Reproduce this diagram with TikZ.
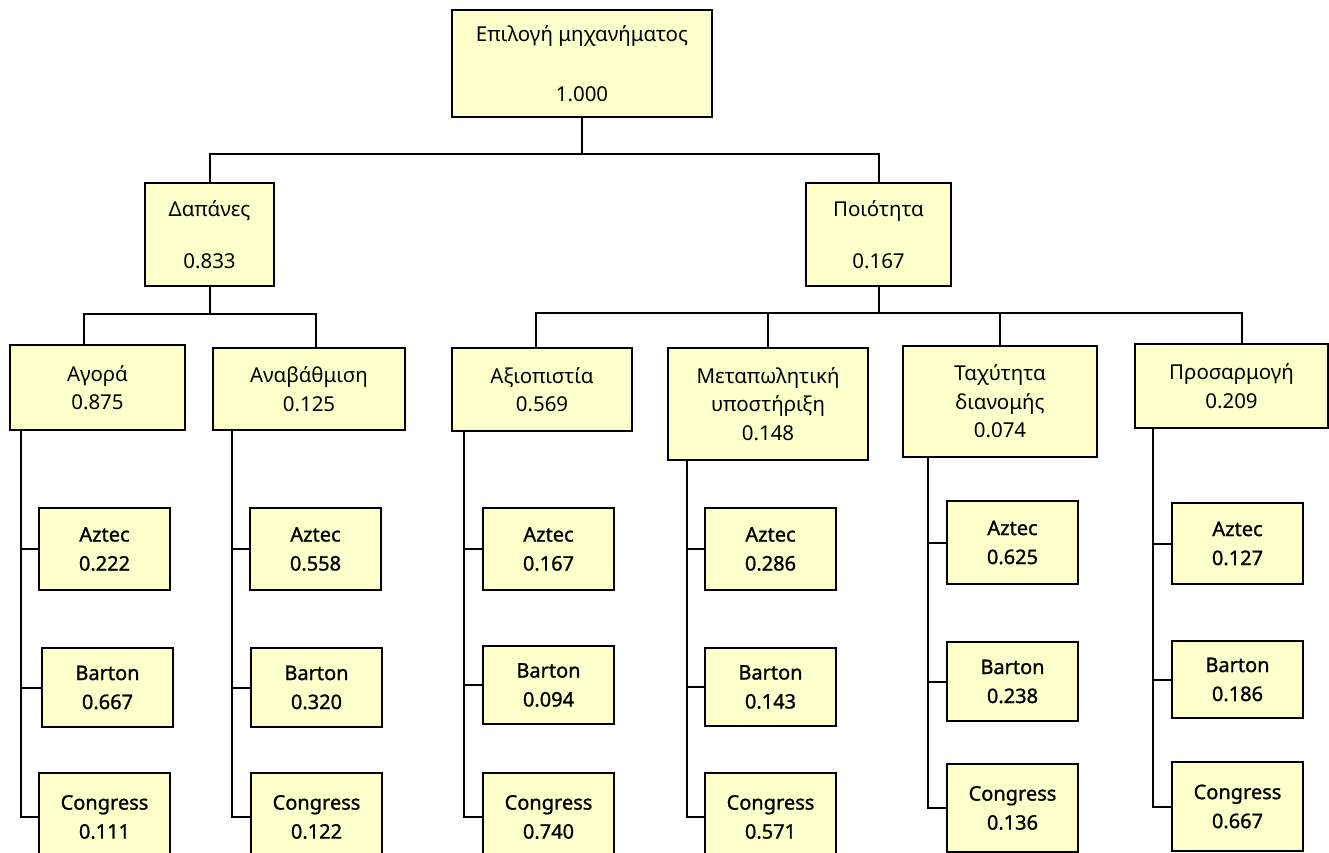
\documentclass[tikz,border=0pt]{standalone}
\usepackage{fontspec}
\setmainfont{Noto Sans}
\newfontfamily\leaffont[FakeBold=1.1]{Noto Sans}
\begin{document}
\begin{tikzpicture}[x=1pt,y=-1pt,
  box/.style={draw=black,line width=2pt,fill=boxfill,inner sep=0pt,
    anchor=north west,align=center,font=\fontsize{20.5}{28.5}\selectfont},
  leaf/.style={box,minimum width=131pt,font=\leaffont\fontsize{20}{29}\selectfont},
  link/.style={draw=black,line width=2pt}]
\definecolor{boxfill}{HTML}{FFFFCC}
\useasboundingbox (0,0) rectangle (1329,853);
\clip (0,0) rectangle (1329,853);

% goal
\node[box,minimum width=260pt,minimum height=107pt] (goal) at (451,9)
  {Επιλογή μηχανήματος\\[31pt]1.000};

% criteria
\node[box,minimum width=129pt,minimum height=103pt] (cost) at (144,182)
  {Δαπάνες\\[24pt]0.833};
\node[box,minimum width=145pt,minimum height=103pt] (qual) at (805,182)
  {Ποιότητα\\[24pt]0.167};

% sub-criteria
\node[box,minimum width=175pt,minimum height=85pt] (buy) at (9,344) {Αγορά\\0.875};
\node[box,minimum width=192pt,minimum height=82pt] (upg) at (212,347) {Αναβάθμιση\\0.125};
\node[box,minimum width=180pt,minimum height=83pt] (rel) at (451,347) {Αξιοπιστία\\0.569};
\node[box,minimum width=200pt,minimum height=112pt] (aft) at (667,347) {Μεταπωλητική\\υποστήριξη\\0.148};
\node[box,minimum width=194pt,minimum height=111pt] (dlv) at (902,345) {Ταχύτητα\\διανομής\\0.074};
\node[box,minimum width=193pt,minimum height=84pt] (fit) at (1134,343) {Προσαρμογή\\0.209};

% alternatives
\node[leaf,minimum height=82pt] (buyA) at (38,507) {Aztec\\0.222};
\node[leaf,minimum height=79pt] (buyB) at (41,647) {Barton\\0.667};
\node[leaf,minimum height=88pt] (buyC) at (38,772) {Congress\\0.111};

\node[leaf,minimum height=82pt] (upgA) at (249,507) {Aztec\\0.558};
\node[leaf,minimum height=79pt] (upgB) at (250,647) {Barton\\0.320};
\node[leaf,minimum height=88pt] (upgC) at (250,772) {Congress\\0.122};

\node[leaf,minimum height=82pt] (relA) at (482,507) {Aztec\\0.167};
\node[leaf,minimum height=78pt] (relB) at (482,645) {Barton\\0.094};
\node[leaf,minimum height=88pt] (relC) at (482,772) {Congress\\0.740};

\node[leaf,minimum height=82pt] (aftA) at (704,507) {Aztec\\0.286};
\node[leaf,minimum height=78pt] (aftB) at (704,647) {Barton\\0.143};
\node[leaf,minimum height=88pt] (aftC) at (704,772) {Congress\\0.571};

\node[leaf,minimum height=83pt] (dlvA) at (946,500) {Aztec\\0.625};
\node[leaf,minimum height=79pt] (dlvB) at (946,641) {Barton\\0.238};
\node[leaf,minimum height=88pt] (dlvC) at (946,763) {Congress\\0.136};

\node[leaf,minimum height=81pt] (fitA) at (1171,502) {Aztec\\0.127};
\node[leaf,minimum height=77pt] (fitB) at (1171,640) {Barton\\0.186};
\node[leaf,minimum height=89pt] (fitC) at (1171,761) {Congress\\0.667};

% goal to criteria
\draw[link] (goal.south) -- ++(0,36) coordinate (g1);
\draw[link] (cost.north) |- (g1) -| (qual.north);

% cost to its sub-criteria
\draw[link] (cost.south) -- ++(0,27) coordinate (c1);
\draw[link] ([xshift=-13.5pt]buy.north) |- (c1) -| ([xshift=7pt]upg.north);

% quality to its sub-criteria
\draw[link] (qual.south) -- ++(0,26) coordinate (q1);
\draw[link] ([xshift=-6pt]rel.north) |- (q1) -| ([xshift=10.5pt]fit.north);
\draw[link] (aft.north) -- (aft.north |- q1);
\draw[link] (dlv.north) -- (dlv.north |- q1);

% sub-criteria to alternatives
\draw[link] ([xshift=12pt]buy.south west) coordinate (tb) |- (buyC.west);
\draw[link] (buyA.west) -- (buyA.west -| tb);
\draw[link] (buyB.west) -- (buyB.west -| tb);

\draw[link] ([xshift=20pt]upg.south west) coordinate (tu) |- (upgC.west);
\draw[link] (upgA.west) -- (upgA.west -| tu);
\draw[link] (upgB.west) -- (upgB.west -| tu);

\draw[link] ([xshift=13pt]rel.south west) coordinate (tr) |- (relC.west);
\draw[link] (relA.west) -- (relA.west -| tr);
\draw[link] (relB.west) -- (relB.west -| tr);

\draw[link] ([xshift=20pt]aft.south west) coordinate (ta) |- (aftC.west);
\draw[link] (aftA.west) -- (aftA.west -| ta);
\draw[link] (aftB.west) -- (aftB.west -| ta);

\draw[link] ([xshift=26pt]dlv.south west) coordinate (td) |- (dlvC.west);
\draw[link] (dlvA.west) -- (dlvA.west -| td);
\draw[link] (dlvB.west) -- (dlvB.west -| td);

\draw[link] ([xshift=19pt]fit.south west) coordinate (tf) |- (fitC.west);
\draw[link] (fitA.west) -- (fitA.west -| tf);
\draw[link] (fitB.west) -- (fitB.west -| tf);
\end{tikzpicture}
\end{document}
